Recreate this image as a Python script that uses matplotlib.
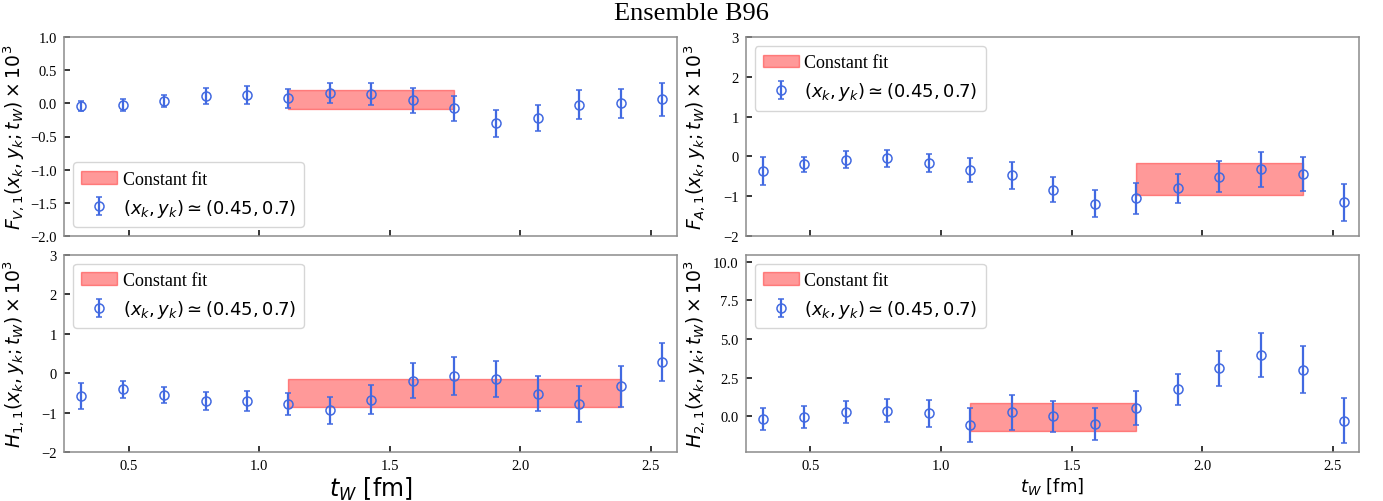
import numpy as np
import matplotlib
matplotlib.use("Agg")
import matplotlib.pyplot as plt

# ---- data ----
t_w = [0.318, 0.477, 0.636, 0.795, 0.954, 1.112, 1.271, 1.430, 1.589, 1.748,
       1.907, 2.066, 2.225, 2.384, 2.543]

fv1 = [-0.04, -0.02, 0.035, 0.11, 0.13, 0.075, 0.16, 0.146, 0.05, -0.075,
       -0.297, -0.22, -0.02, 0.0, 0.06]
fv1_err = [0.078, 0.09, 0.09, 0.12, 0.14, 0.145, 0.155, 0.165, 0.19, 0.19,
           0.205, 0.2, 0.22, 0.225, 0.25]
fv1_fit = [0.21, -0.08]
fv1_range = [1.112, 1.748]

fa1 = [-0.37, -0.20, -0.084, -0.05, -0.16, -0.35, -0.48, -0.84, -1.19, -1.06,
       -0.81, -0.51, -0.33, -0.445, -1.16]
fa1_err = [0.35, 0.19, 0.21, 0.21, 0.23, 0.30, 0.34, 0.31, 0.35, 0.39,
           0.36, 0.40, 0.44, 0.43, 0.46]
fa1_fit = [-0.16, -0.98]
fa1_range = [1.748, 2.384]

h11 = [-0.58, -0.41, -0.555, -0.70, -0.70, -0.775, -0.94, -0.67, -0.185, -0.076,
       -0.15, -0.52, -0.775, -0.33, 0.295]
h11_err = [0.33, 0.21, 0.21, 0.235, 0.25, 0.28, 0.34, 0.37, 0.44, 0.475,
           0.455, 0.44, 0.45, 0.52, 0.48]
h11_fit = [-0.15, -0.86]
h11_range = [1.112, 2.384]

h21 = [-0.19, -0.065, 0.24, 0.345, 0.17, -0.58, 0.24, -0.02, -0.50, 0.54,
       1.75, 3.10, 3.97, 3.0, -0.30]
h21_err = [0.71, 0.73, 0.71, 0.75, 0.86, 1.08, 1.14, 1.03, 1.02, 1.11,
           1.0, 1.15, 1.44, 1.52, 1.47]
h21_fit = [0.84, -0.95]
h21_range = [1.112, 1.748]

ylabels = [r"$F_{V,1}(x_k, y_k; t_W) \times 10^3$",
           r"$F_{A,1}(x_k, y_k; t_W) \times 10^3$",
           r"$H_{1,1}(x_k, y_k; t_W) \times 10^3$",
           r"$H_{2,1}(x_k, y_k; t_W) \times 10^3$"]
point_label = r"$(x_k, y_k) \simeq (0.45, 0.7)$"
fit_label = "Constant fit"
title = "Ensemble B96"

plt.rcParams['font.family'] = ['Liberation Serif', 'DejaVu Serif']
plt.rcParams['mathtext.fontset'] = 'dejavusans'
plt.rcParams['axes.unicode_minus'] = True

fig = plt.figure(figsize=(13.83, 5.02), dpi=100)

L1, R1 = 64 / 1383, 677.3 / 1383
L2, R2 = 745.7 / 1383, 1359.3 / 1383
T1, B1 = 1 - 38.3 / 502, 1 - 236.7 / 502
T2, B2 = 1 - 255.7 / 502, 1 - 453.3 / 502

rects = [(L1, B1, R1 - L1, T1 - B1), (L2, B1, R2 - L2, T1 - B1),
         (L1, B2, R1 - L1, T2 - B2), (L2, B2, R2 - L2, T2 - B2)]
series = [(fv1, fv1_err, fv1_fit, fv1_range),
          (fa1, fa1_err, fa1_fit, fa1_range),
          (h11, h11_err, h11_fit, h11_range),
          (h21, h21_err, h21_fit, h21_range)]
ylims = [(-2.0, 1.0), (-2.0, 3.0), (-2.0, 3.0), (-2.35, 10.47)]
yticks = [np.arange(-2.0, 1.01, 0.5), np.arange(-2, 3.1, 1),
          np.arange(-2, 3.1, 1), np.arange(0, 10.1, 2.5)]
legend_locs = ['lower left', 'upper left', 'upper left', 'upper left']
ytickfmt = ['{:.1f}', '{:.0f}', '{:.0f}', '{:.1f}']

blue = '#4169E1'
for i, (rect, (y, ye, fit, rng)) in enumerate(zip(rects, series)):
    ax = fig.add_axes(rect)
    xs = [v for v in t_w if rng[0] - 1e-6 <= v <= rng[1] + 1e-6]
    ax.fill_between(xs, [fit[1]] * len(xs), [fit[0]] * len(xs),
                    color='red', alpha=0.4, linewidth=1, label=fit_label)
    ax.errorbar(t_w, y, yerr=ye, fmt='o', mfc='none', mec=blue, color=blue,
                ms=6.5, mew=1.1, elinewidth=1.6, capsize=2.5, capthick=1.3,
                label=point_label)
    ax.set_xlim(0.253, 2.601)
    ax.set_ylim(*ylims[i])
    ax.set_yticks(yticks[i])
    ax.set_yticklabels([ytickfmt[i].format(v).replace('-', '\u2212') for v in yticks[i]])
    ax.set_xticks([0.5, 1.0, 1.5, 2.0, 2.5])
    if i < 2:
        ax.set_xticklabels([])
    else:
        ax.set_xticklabels(['0.5', '1.0', '1.5', '2.0', '2.5'])
    ax.tick_params(direction='in', labelsize=10.5, length=4, width=1.1,
                   color='black', pad=5)
    for s in ax.spines.values():
        s.set_color('#8c8c8c')
        s.set_linewidth(1.1)
    ax.set_ylabel(ylabels[i], fontsize=13.5, family='DejaVu Sans')
    leg = ax.legend(loc=legend_locs[i], fontsize=13, handlelength=2.0,
                    borderpad=0.45, labelspacing=0.5, handletextpad=0.3)
    for t in leg.get_texts():
        t.set_family('Liberation Serif')
    if i == 2:
        ax.set_xlabel(r"$t_W$ [fm]", fontsize=17, family='DejaVu Sans', labelpad=2)
    if i == 3:
        ax.set_xlabel(r"$t_W$ [fm]", fontsize=13, family='DejaVu Sans', labelpad=2)
    ax.yaxis.set_label_coords(-0.06 if i % 2 == 0 else -0.062, 0.5)

fig.suptitle(title, fontsize=19, y=0.995, va='top')
fig.savefig('out.png', dpi=100)
